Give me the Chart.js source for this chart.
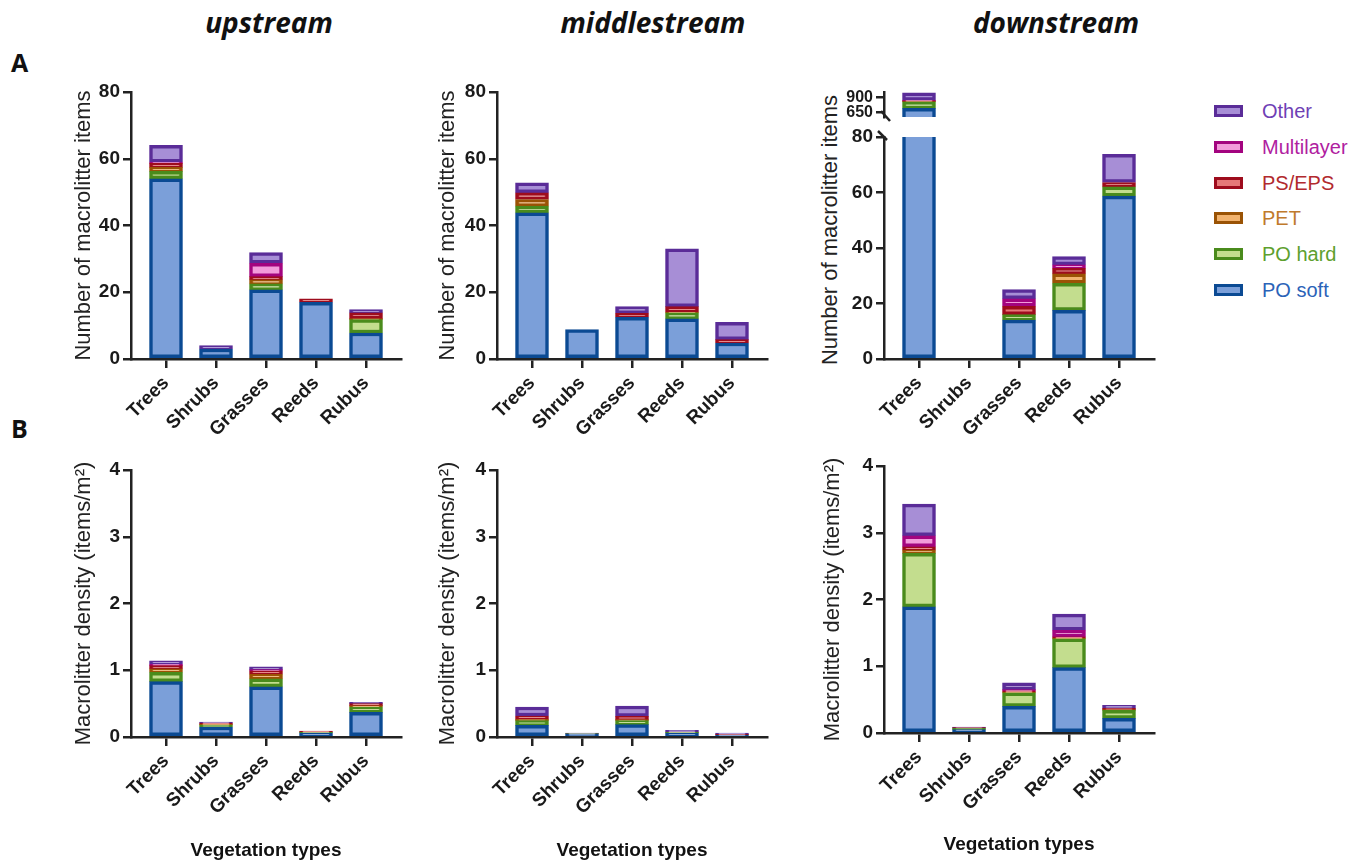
<!DOCTYPE html>
<html>
<head>
<meta charset="utf-8">
<script src="https://cdn.jsdelivr.net/npm/chart.js@4.4.1/dist/chart.umd.min.js"></script>
<style>
html,body{margin:0;padding:0;background:#fff;}
body{width:1369px;height:862px;overflow:hidden;position:relative;font-family:'Liberation Sans',Arial,sans-serif;}
canvas{position:absolute;}
.site{position:absolute;font-family:'Open Sans',sans-serif;font-weight:700;font-style:italic;font-size:28px;line-height:28px;color:#111;transform:translateX(-50%);white-space:nowrap;}
.panel{position:absolute;font-family:'Open Sans',sans-serif;font-weight:700;font-size:25px;line-height:25px;color:#111;}
.ytitle{position:absolute;font-size:22px;color:#222;white-space:nowrap;transform:translate(-50%,-50%) rotate(-90deg);}
.leg{position:absolute;left:1214px;height:36px;display:flex;align-items:center;font-size:20px;white-space:nowrap;}
.sw{width:23px;height:6px;border:3px solid;margin-right:19px;}
</style>
</head>
<body>
<div class="site" style="left:269px;top:8px;">upstream</div>
<div class="site" style="left:653px;top:8px;">middlestream</div>
<div class="site" style="left:1056px;top:8px;">downstream</div>
<div class="panel" style="left:11px;top:50px;">A</div>
<div class="panel" style="left:11px;top:416px;">B</div>
<div class="ytitle" style="left:830px;top:230px;">Number of macrolitter items</div>
<div id="legend"></div>
<script>
// ---------- data ----------
const categories = ['Trees', 'Shrubs', 'Grasses', 'Reeds', 'Rubus'];
// material order (bottom of stack first)
const materials = ['PO soft', 'PO hard', 'PET', 'PS/EPS', 'Multilayer', 'Other'];

// Number of macrolitter items (rows follow `materials`, columns follow `categories`)
const countUpstream = [
  [54, 3, 20.7, 17, 7.8],
  [2.2, 0, 1.8, 0, 4],
  [1.2, 0, 1.2, 0, 0.3],
  [1.2, 0, 1, 1, 1.7],
  [0.4, 0, 4, 0, 0],
  [5, 1, 3.2, 0, 1]
];
const countMiddlestream = [
  [43.8, 8.8, 12.5, 12, 4.8],
  [2, 0, 0, 1.8, 0],
  [2, 0, 0, 0.2, 0],
  [2, 0, 1.2, 1.7, 1],
  [0, 0, 0, 0, 0],
  [3, 0, 2, 17.3, 5.2]
];
const countDownstream = [
  [715, 0, 14, 17.5, 58.7],
  [110, 0, 2, 9.8, 3.3],
  [3, 0, 0, 3.4, 0],
  [15, 0, 3, 2, 1.6],
  [5, 0, 2.7, 1.2, 0],
  [130, 0, 3.3, 3, 10.2]
];
// Macrolitter density (items/m2)
const densityUpstream = [
  [0.83, 0.15, 0.75, 0.06, 0.37],
  [0.14, 0.03, 0.12, 0.01, 0.08],
  [0.05, 0.01, 0.07, 0, 0.02],
  [0.05, 0.02, 0.05, 0.02, 0.03],
  [0.02, 0, 0.02, 0, 0],
  [0.05, 0.015, 0.04, 0, 0.02]
];
const densityMiddlestream = [
  [0.175, 0.045, 0.185, 0.06, 0.03],
  [0.07, 0.005, 0.06, 0.01, 0],
  [0.02, 0, 0.015, 0, 0],
  [0.05, 0, 0.05, 0.005, 0.01],
  [0, 0, 0, 0, 0],
  [0.135, 0.01, 0.155, 0.025, 0.02]
];
const densityDownstream = [
  [1.89, 0.05, 0.40, 0.98, 0.22],
  [0.80, 0.02, 0.20, 0.43, 0.12],
  [0.05, 0, 0.01, 0.01, 0.01],
  [0.05, 0.01, 0.02, 0.02, 0.02],
  [0.165, 0, 0.02, 0.10, 0],
  [0.475, 0.01, 0.10, 0.24, 0.045]
];
const countTicks = [0, 20, 40, 60, 80];
const countBreakTicks = [650, 900];
const densityTicks = [0, 1, 2, 3, 4];

// ---------- styles ----------
const edgeColors = ['#0B4A93', '#4A8B1C', '#9A5305', '#9E0C1D', '#A3047F', '#5A2C98'];
const fillColors = ['#7B9FD9', '#C3DD8E', '#F2B36E', '#E67878', '#F29BDB', '#A78ED6'];
const textColors = ['#2B63B8', '#5EA02E', '#C07A2C', '#B22A2E', '#B0209F', '#6F3FB5'];
const AX = '#222';
const FONT = "'Liberation Sans', Arial, sans-serif";
Chart.defaults.font.family = FONT;
Chart.defaults.color = '#1a1a1a';

const breakMarks = {
  id: 'breakMarks',
  afterDraw(chart, args, o) {
    if (!o || !o.at) return;
    const {ctx, chartArea: a} = chart;
    ctx.save();
    ctx.strokeStyle = AX; ctx.lineWidth = 2.5;
    ctx.beginPath();
    if (o.at === 'bottom') { ctx.moveTo(a.left - 3, a.bottom - 6); ctx.lineTo(a.left + 6, a.bottom + 4); }
    else { ctx.moveTo(a.left - 6, a.top - 6); ctx.lineTo(a.left + 3, a.top + 3); }
    ctx.stroke();
    ctx.restore();
  }
};

function makeCanvas(left, top, w, h) {
  const c = document.createElement('canvas');
  c.width = w; c.height = h;
  c.style.left = left + 'px'; c.style.top = top + 'px';
  c.style.width = w + 'px'; c.style.height = h + 'px';
  document.body.appendChild(c);
  return c;
}

function panel(o) {
  const canvas = makeCanvas(o.left, o.top, o.w, o.h);
  const datasets = materials.map((m, k) => ({
    label: m,
    data: categories.map((c, i) => ({x: i, y: o.matrix[k][i]})),
    backgroundColor: fillColors[k],
    borderColor: edgeColors[k],
    borderWidth: 3.5,
    borderSkipped: false,
    barThickness: 33,
    clip: 0
  }));
  return new Chart(canvas, {
    type: 'bar',
    data: {datasets},
    plugins: [breakMarks],
    options: {
      responsive: false, animation: false, devicePixelRatio: 1,
      layout: {padding: {top: 16, right: 12, bottom: o.padBottom || 0, left: 0}},
      plugins: {legend: {display: false}, tooltip: {enabled: false}, breakMarks: {at: o.breakAt || null}},
      scales: {
        x: {
          type: 'linear', min: -0.7, max: 4.7, offset: false, stacked: true, display: o.showX !== false,
          afterBuildTicks: s => { s.ticks = categories.map((c, i) => ({value: i})); },
          afterFit: s => { s.height = o.xh || 0; },
          ticks: {autoSkip: false, maxRotation: 45, minRotation: 45, padding: 4,
                  font: {size: 19, weight: 'bold'}, color: '#1a1a1a',
                  callback: v => categories[v]},
          grid: {offset: false, drawOnChartArea: false, color: AX, lineWidth: 2.5, tickLength: 9},
          border: {display: true, color: AX, width: 2.5},
          title: {display: !!o.xTitle, text: o.xTitle || '', color: '#111',
                  font: {size: 19, weight: 'bold'}, padding: {top: 4, bottom: 0}}
        },
        y: {
          type: 'linear', min: o.min, max: o.max, stacked: true,
          afterBuildTicks: s => { s.ticks = o.ticks.map(v => ({value: v})); },
          afterFit: s => { s.width = o.yw; },
          ticks: {font: {size: o.tickSize || 19, weight: 'bold'}, color: '#1a1a1a', padding: 3},
          grid: {drawOnChartArea: false, color: AX, lineWidth: 2.5, tickLength: 8},
          border: {display: true, color: AX, width: 2.5},
          title: {display: !!o.yTitle, text: o.yTitle || '', color: '#222',
                  font: {size: 22}, padding: {top: 4, bottom: 4}}
        }
      }
    }
  });
}

const countTitle = 'Number of macrolitter items';
const densityTitle = 'Macrolitter density (items/m\u00B2)';
const vegTitle = 'Vegetation types';

// Row A
panel({left: 67, top: 76, w: 346, h: 363, yw: 64, xh: 80, matrix: countUpstream,
       min: 0, max: 80, ticks: countTicks, yTitle: countTitle});
panel({left: 431, top: 76, w: 348, h: 363, yw: 66, xh: 80, matrix: countMiddlestream,
       min: 0, max: 80, ticks: countTicks, yTitle: countTitle});
// downstream: broken axis (upper segment + lower segment)
panel({left: 824, top: 76, w: 342, h: 57, yw: 60, showX: false, padBottom: 16, matrix: countDownstream,
       min: 570, max: 990, ticks: countBreakTicks, tickSize: 16, breakAt: 'bottom'});
panel({left: 824, top: 121, w: 342, h: 318, yw: 60, xh: 80, matrix: countDownstream,
       min: 0, max: 80, ticks: countTicks, breakAt: 'top'});
// Row B
panel({left: 67, top: 454, w: 346, h: 408, yw: 64, xh: 125, matrix: densityUpstream,
       min: 0, max: 4, ticks: densityTicks, yTitle: densityTitle, xTitle: vegTitle});
panel({left: 431, top: 454, w: 348, h: 408, yw: 66, xh: 125, matrix: densityMiddlestream,
       min: 0, max: 4, ticks: densityTicks, yTitle: densityTitle, xTitle: vegTitle});
panel({left: 816, top: 450, w: 350, h: 406, yw: 68, xh: 123, matrix: densityDownstream,
       min: 0, max: 4, ticks: densityTicks, yTitle: densityTitle, xTitle: vegTitle});

// Legend (top entry = last stacked material)
const legendTops = [272, 236, 200, 165, 129, 93];
const legend = document.getElementById('legend');
materials.forEach((m, k) => {
  const row = document.createElement('div');
  row.className = 'leg';
  row.style.top = legendTops[k] + 'px';
  row.style.color = textColors[k];
  const sw = document.createElement('span');
  sw.className = 'sw';
  sw.style.borderColor = edgeColors[k];
  sw.style.background = fillColors[k];
  row.appendChild(sw);
  row.appendChild(document.createTextNode(m));
  legend.appendChild(row);
});
</script>
</body>
</html>
